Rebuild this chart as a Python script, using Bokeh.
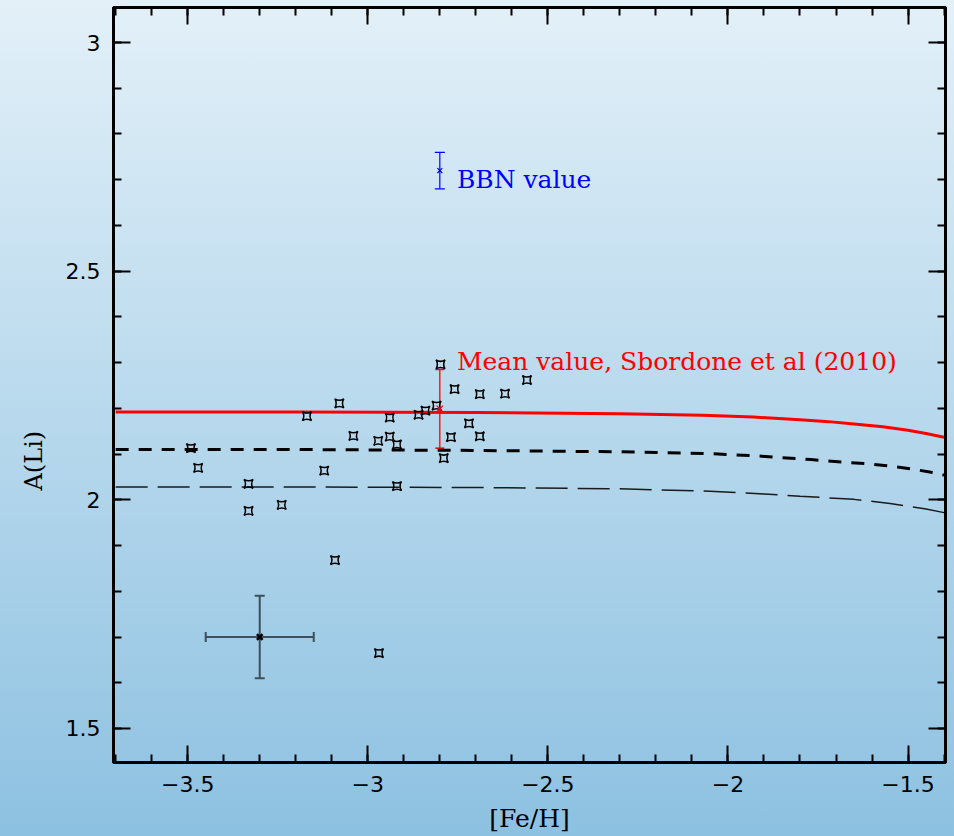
import math
from bokeh.plotting import figure
from bokeh.models import (Range1d, LinearAxis, SingleIntervalTicker, Label, Title,
                          Whisker, TeeHead, ColumnDataSource, CustomJSTickFormatter)
from bokeh.embed import file_html
from bokeh.resources import INLINE

# ---------------- data ----------------
fe_h = [-3.491, -3.471, -3.331, -3.331, -3.239, -3.169, -3.121, -3.091, -3.079,
        -3.040, -2.969, -2.971, -2.939, -2.939, -2.919, -2.919, -2.859, -2.840,
        -2.809, -2.798, -2.789, -2.769, -2.759, -2.719, -2.689, -2.689, -2.619,
        -2.558]
a_li = [2.113, 2.070, 2.035, 1.976, 1.989, 2.183, 2.064, 1.868, 2.211,
        2.140, 1.665, 2.129, 2.180, 2.138, 2.121, 2.030, 2.186, 2.195,
        2.206, 2.296, 2.091, 2.137, 2.242, 2.167, 2.231, 2.139, 2.232,
        2.262]

# model curves
red_x = [-3.70, -3.20, -2.70, -2.30, -2.07, -1.93, -1.80, -1.72, -1.65, -1.57, -1.50, -1.45, -1.40]
red_y = [2.192, 2.192, 2.191, 2.188, 2.185, 2.181, 2.175, 2.171, 2.166, 2.160, 2.152, 2.145, 2.137]

bold_x = [-3.70, -3.20, -2.70, -2.30, -2.05, -1.92, -1.77, -1.67, -1.60, -1.53, -1.48, -1.44, -1.40]
bold_y = [2.110, 2.110, 2.108, 2.105, 2.101, 2.096, 2.088, 2.082, 2.078, 2.072, 2.066, 2.061, 2.054]

thin_x = [-3.70, -3.20, -2.70, -2.30, -2.05, -1.90, -1.80, -1.65, -1.55, -1.50, -1.45, -1.40]
thin_y = [2.028, 2.028, 2.027, 2.024, 2.019, 2.013, 2.008, 2.001, 1.992, 1.986, 1.980, 1.972]

# mean value (Sbordone et al 2010) and BBN value
mean_x, mean_y, mean_err = [-2.8], [2.199], [0.086]
bbn_x, bbn_y, bbn_err = [-2.8], [2.72], [0.04]

# representative error bar
rep_x, rep_y, rep_xerr, rep_yerr = [-3.3], [1.70], [0.15], [0.09]

x_tick_values = [-3.5, -3.0, -2.5, -2.0, -1.5]
x_tick_labels = ["\u22123.5", "\u22123", "\u22122.5", "\u22122", "\u22121.5"]
y_tick_values = [1.5, 2.0, 2.5, 3.0]
y_tick_labels = ["1.5", "2", "2.5", "3"]

mean_label = "Mean value, Sbordone et al (2010)"
bbn_label = "BBN value"
x_title = "[Fe/H]"
y_title = "A(Li)"

# ---------------- figure ----------------
X0, X1 = -3.706, -1.396
Y0, Y1 = 1.4256, 3.0766

p = figure(width=954, height=836, output_backend="svg", toolbar_location=None,
           x_range=Range1d(X0, X1), y_range=Range1d(Y0, Y1),
           min_border_left=113, min_border_right=9, min_border_top=7,
           min_border_bottom=74)
p.background_fill_alpha = 0
p.border_fill_alpha = 0
p.outline_line_color = "black"
p.outline_line_width = 3
p.styles = {"background": "linear-gradient(180deg, #e3f0f8 0%, #bcdbee 45%, #8dc1e1 100%)"}
p.xgrid.visible = False
p.ygrid.visible = False

x_over = {v: t for v, t in zip(x_tick_values, x_tick_labels)}
y_over = {v: t for v, t in zip(y_tick_values, y_tick_labels)}


def style_axis(ax, show_labels):
    ax.axis_line_width = 3
    ax.axis_line_color = "black"
    ax.major_tick_in = 17
    ax.major_tick_out = 0
    ax.minor_tick_in = 8
    ax.minor_tick_out = 0
    ax.major_tick_line_width = 2
    ax.minor_tick_line_width = 2
    ax.major_tick_line_color = "black"
    ax.minor_tick_line_color = "black"
    if show_labels:
        ax.major_label_text_font = "DejaVu Sans"
        ax.major_label_text_font_size = "22px"
        ax.major_label_text_color = "black"
        ax.major_label_standoff = 13
    else:
        ax.formatter = CustomJSTickFormatter(code="return ''")
        ax.major_label_text_font_size = "1px"
        ax.major_label_standoff = 0


p.xaxis.ticker = SingleIntervalTicker(interval=0.5, num_minor_ticks=5)
p.yaxis.ticker = SingleIntervalTicker(interval=0.5, num_minor_ticks=5)
p.xaxis.major_label_overrides = x_over
p.yaxis.major_label_overrides = y_over
style_axis(p.xaxis[0], True)
style_axis(p.yaxis[0], True)

p.xaxis.axis_label = x_title
p.xaxis.axis_label_text_font = "DejaVu Serif"
p.xaxis.axis_label_text_font_style = "normal"
p.xaxis.axis_label_text_font_size = "25px"
p.xaxis.axis_label_text_color = "black"
p.xaxis.axis_label_standoff = 9

top = LinearAxis(ticker=SingleIntervalTicker(interval=0.5, num_minor_ticks=5))
right = LinearAxis(ticker=SingleIntervalTicker(interval=0.5, num_minor_ticks=5))
style_axis(top, False)
style_axis(right, False)
p.add_layout(top, "above")
p.add_layout(right, "right")

p.add_layout(Title(text=y_title, align="left", offset=272, standoff=30,
                   text_font="DejaVu Serif", text_font_style="normal",
                   text_font_size="24px", text_color="black"), "left")

# ---------------- curves ----------------
p.line(thin_x, thin_y, line_color="#1a1a1a", line_width=1.5, line_dash="32 10")
p.line(bold_x, bold_y, line_color="black", line_width=3, line_dash="13 10")
p.line(red_x, red_y, line_color="#ff0000", line_width=3)

# ---------------- error bars ----------------
src_mean = ColumnDataSource(dict(x=mean_x, lo=[m - e for m, e in zip(mean_y, mean_err)],
                                 hi=[m + e for m, e in zip(mean_y, mean_err)]))
p.add_layout(Whisker(source=src_mean, base="x", lower="lo", upper="hi",
                     line_color="#ff0000", line_width=1.3,
                     lower_head=TeeHead(size=9, line_color="#ff0000", line_width=1.5),
                     upper_head=TeeHead(size=9, line_color="#ff0000", line_width=1.5)))

src_bbn = ColumnDataSource(dict(x=bbn_x, lo=[m - e for m, e in zip(bbn_y, bbn_err)],
                                hi=[m + e for m, e in zip(bbn_y, bbn_err)]))
p.add_layout(Whisker(source=src_bbn, base="x", lower="lo", upper="hi",
                     line_color="#0000ff", line_width=1.2,
                     lower_head=TeeHead(size=10, line_color="#0000ff", line_width=1.2),
                     upper_head=TeeHead(size=10, line_color="#0000ff", line_width=1.2)))

rep_col = "#3c4f5a"
src_rep_v = ColumnDataSource(dict(x=rep_x, lo=[m - e for m, e in zip(rep_y, rep_yerr)],
                                  hi=[m + e for m, e in zip(rep_y, rep_yerr)]))
p.add_layout(Whisker(source=src_rep_v, base="x", lower="lo", upper="hi",
                     line_color=rep_col, line_width=2,
                     lower_head=TeeHead(size=10, line_color=rep_col, line_width=2),
                     upper_head=TeeHead(size=10, line_color=rep_col, line_width=2)))
src_rep_h = ColumnDataSource(dict(y=rep_y, lo=[m - e for m, e in zip(rep_x, rep_xerr)],
                                  hi=[m + e for m, e in zip(rep_x, rep_xerr)]))
p.add_layout(Whisker(source=src_rep_h, base="y", lower="lo", upper="hi", dimension="width",
                     line_color=rep_col, line_width=2,
                     lower_head=TeeHead(size=10, line_color=rep_col, line_width=2),
                     upper_head=TeeHead(size=10, line_color=rep_col, line_width=2)))

# ---------------- points ----------------
p.scatter(fe_h, a_li, marker="square_pin", size=9, line_color="black",
          line_width=1.5, fill_alpha=0)
p.scatter(mean_x, mean_y, marker="x", size=9, line_color="#ff0000", line_width=1.3)
p.scatter(bbn_x, bbn_y, marker="x", size=7, line_color="#0000ff", line_width=1.2)
p.scatter(rep_x, rep_y, marker="x", size=8, line_color="black", line_width=2.5)

# ---------------- texts ----------------
p.add_layout(Label(x=-2.7526, y=2.302, text=mean_label, text_color="#ff0000",
                   text_font="DejaVu Serif", text_font_size="25px",
                   text_baseline="alphabetic", text_align="left"))
p.add_layout(Label(x=-2.7526, y=2.700, text=bbn_label, text_color="#0000ff",
                   text_font="DejaVu Serif", text_font_size="25px",
                   text_baseline="alphabetic", text_align="left"))

open("out.html", "w").write(file_html(p, INLINE))
